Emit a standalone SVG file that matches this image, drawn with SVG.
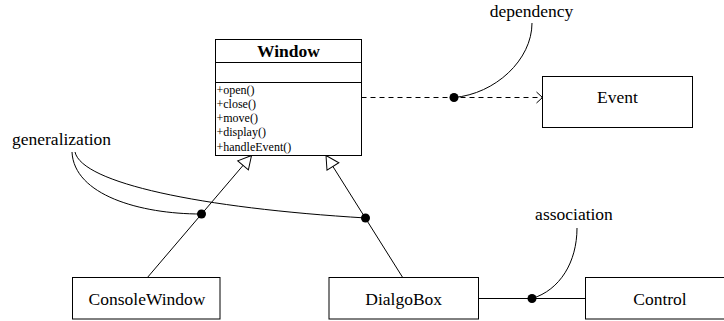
<svg xmlns="http://www.w3.org/2000/svg" width="724" height="321" viewBox="0 0 724 321">
<style>
  .box { fill: #fff; stroke: #000; stroke-width: 1; }
  .t { font-family: "Liberation Serif", "Times New Roman", serif; font-size: 17.5px; fill: #000; }
  .c { text-anchor: middle; }
  .b { font-weight: bold; }
  .m { font-family: "Liberation Serif", "Times New Roman", serif; font-size: 12px; fill: #000; }
  .ln { fill: none; stroke: #000; stroke-width: 1; }
  .dash { stroke-dasharray: 5 4; }
  .dot { fill: #000; }
</style>
<defs>
  <marker id="gen" markerUnits="userSpaceOnUse" markerWidth="16" markerHeight="16" refX="14" refY="8" orient="auto" overflow="visible">
    <path d="M14,8 L1,1 L1,15 Z" fill="#fff" stroke="#000" stroke-width="1"/>
  </marker>
  <marker id="open" markerUnits="userSpaceOnUse" markerWidth="10" markerHeight="14" refX="7" refY="7" orient="auto" overflow="visible">
    <path d="M1,1.5 L7,7 L1,12.5" fill="none" stroke="#000" stroke-width="1"/>
  </marker>
</defs>

<g id="connectors">
  <line class="ln" x1="147" y1="278" x2="251.5" y2="155.5" marker-end="url(#gen)"/>
  <line class="ln" x1="403" y1="278" x2="326" y2="155.5" marker-end="url(#gen)"/>
  <line class="ln dash" x1="361.5" y1="97.5" x2="542.5" y2="97.5" marker-end="url(#open)"/>
  <line class="ln" x1="478.5" y1="298.5" x2="585.5" y2="298.5"/>
</g>

<g id="notes">
  <path class="ln" d="M72 152 C74 195, 140 214, 201 214"/>
  <path class="ln" d="M75 152 C82 183, 200 208, 366 218"/>
  <circle class="dot" cx="201.5" cy="214" r="4.5"/>
  <circle class="dot" cx="365.5" cy="218" r="4.5"/>
  <text class="t" x="12" y="145">generalization</text>

  <path class="ln" d="M454 97.5 C495 94, 532 60, 532 23"/>
  <circle class="dot" cx="454" cy="97.5" r="4.5"/>
  <text class="t c" x="531.5" y="17">dependency</text>

  <path class="ln" d="M532 298.5 C560 290, 577 262, 577 228"/>
  <circle class="dot" cx="532" cy="298.5" r="4.5"/>
  <text class="t c" x="574" y="220">association</text>
</g>

<g id="Window">
  <rect class="box" x="215.5" y="39.5" width="146" height="116"/>
  <line class="ln" x1="215.5" y1="62.5" x2="361.5" y2="62.5"/>
  <line class="ln" x1="215.5" y1="82.5" x2="361.5" y2="82.5"/>
  <text class="t c b" x="288.5" y="57">Window</text>
  <text class="m" x="216.5" y="93.5">+open()</text>
  <text class="m" x="216.5" y="107.8">+close()</text>
  <text class="m" x="216.5" y="122">+move()</text>
  <text class="m" x="216.5" y="136.3">+display()</text>
  <text class="m" x="216.5" y="150.5">+handleEvent()</text>
</g>

<g id="Event">
  <rect class="box" x="542.5" y="76.5" width="150" height="51"/>
  <text class="t c" x="617.5" y="102.5">Event</text>
</g>

<g id="ConsoleWindow">
  <rect class="box" x="72.5" y="277.5" width="147.5" height="41.5"/>
  <text class="t c" x="147" y="305">ConsoleWindow</text>
</g>

<g id="DialgoBox">
  <rect class="box" x="329" y="277.5" width="149.5" height="41.5"/>
  <text class="t c" x="403.7" y="305">DialgoBox</text>
</g>

<g id="Control">
  <rect class="box" x="585.5" y="277.5" width="150" height="41.5"/>
  <text class="t c" x="660" y="305">Control</text>
</g>
</svg>
